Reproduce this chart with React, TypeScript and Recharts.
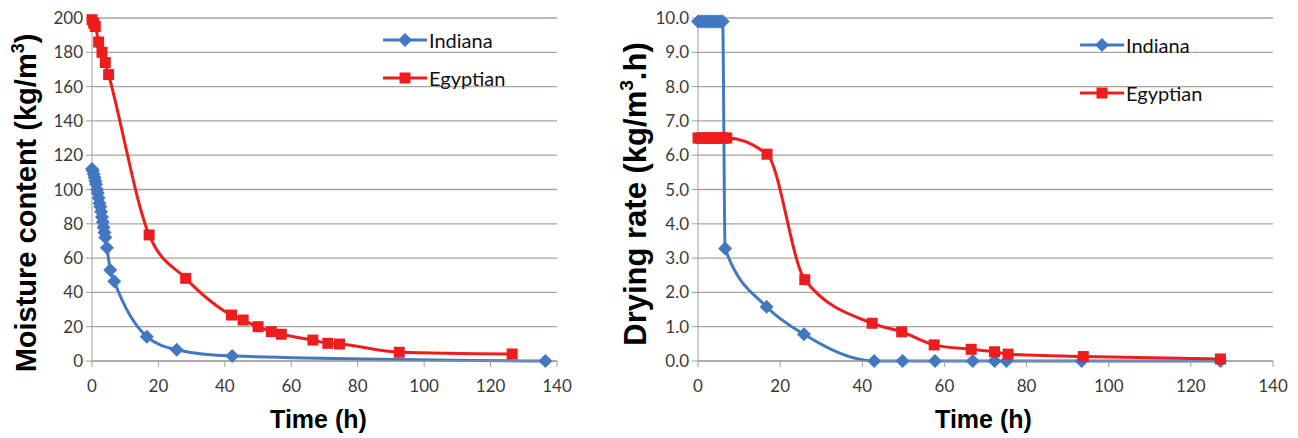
import { CartesianGrid, Line, LineChart, XAxis, YAxis } from "recharts";

const BLUE = "#4277c2";
const RED = "#ee1d1d";
const GRID = "#aaa39c";
const AXIS = "#9e9e9e";

const timeTicks = [0, 20, 40, 60, 80, 100, 120, 140];
const moistureTicks = [0, 20, 40, 60, 80, 100, 120, 140, 160, 180, 200];
const rateTicks = [0, 1, 2, 3, 4, 5, 6, 7, 8, 9, 10];

// moisture content (kg/m3)
const indianaMcTime = [0, 0.25, 0.5, 0.75, 1, 1.25, 1.5, 1.75, 2, 2.25, 2.5, 2.75, 3, 3.25, 3.5, 3.75, 4, 4.5, 5.5, 6.7, 16.5, 25.5, 42.2, 136.5];
const indianaMc = [112, 111, 109, 107, 105, 103, 100, 98, 95, 92, 90, 87, 84, 81, 78, 75, 72, 66, 53, 46.5, 14.2, 6.6, 2.9, 0];
const egyptianMcTime = [0, 0.5, 1, 2, 3, 4, 5, 17.2, 28.2, 42, 45.5, 50, 54, 57, 66.5, 71, 74.5, 92.5, 126.5];
const egyptianMc = [199, 197, 195, 186, 180, 174, 167, 73.5, 48.2, 26.8, 23.9, 20, 17.1, 15.6, 12.2, 10.3, 9.9, 5.1, 4.1];

// drying rate (kg/m3.h)
const indianaRateTime = [0, 0.5, 1, 1.5, 2, 2.5, 3, 3.5, 4, 4.5, 5, 5.5, 6, 6.6, 16.7, 25.8, 42.9, 49.8, 57.7, 66.9, 72.2, 75.1, 93.4, 127.2];
const indianaRate = [9.9, 9.9, 9.9, 9.9, 9.9, 9.9, 9.9, 9.9, 9.9, 9.9, 9.9, 9.9, 9.9, 3.28, 1.58, 0.78, 0, 0, 0, 0, 0, 0, 0, 0];
const egyptianRateTime = [0, 0.5, 1, 1.5, 2, 2.5, 3, 3.5, 4, 4.5, 5, 5.5, 6, 6.5, 7, 16.8, 26, 42.4, 49.6, 57.5, 66.5, 72.2, 75.5, 93.8, 127.2];
const egyptianRate = [6.5, 6.5, 6.5, 6.5, 6.5, 6.5, 6.5, 6.5, 6.5, 6.5, 6.5, 6.5, 6.5, 6.5, 6.5, 6.03, 2.37, 1.1, 0.85, 0.47, 0.34, 0.27, 0.2, 0.13, 0.06];

const zip = (t: number[], v: number[]) => t.map((x, i) => ({ t: x, v: v[i] }));

const tickFont = { fontSize: 17, fontFamily: "Lato", fill: "#3a3a3a" };
const titleFont = "Liberation Sans";

function Diamond(p: any) {
  const { cx, cy } = p;
  if (cx == null || cy == null) return null;
  const r = 7;
  return <path d={`M${cx},${cy - r}L${cx + r},${cy}L${cx},${cy + r}L${cx - r},${cy}Z`} fill={BLUE} />;
}

function Square(p: any) {
  const { cx, cy } = p;
  if (cx == null || cy == null) return null;
  return <rect x={cx - 5.5} y={cy - 5.5} width={11} height={11} fill={RED} />;
}

function SeriesLegend({ left, top, gap }: { left: number; top: number; gap: number }) {
  const items = [
    { name: "Indiana", color: BLUE, marker: "diamond" },
    { name: "Egyptian", color: RED, marker: "square" },
  ];
  return (
    <div style={{ position: "absolute", left, top }}>
      {items.map((it) => (
        <div key={it.name} style={{ display: "flex", alignItems: "center", height: gap }}>
          <svg width={44} height={16}>
            <line x1={0} y1={8} x2={44} y2={8} stroke={it.color} strokeWidth={3} />
            {it.marker === "diamond" ? <Diamond cx={22} cy={8} /> : <Square cx={22} cy={8} />}
          </svg>
          <span style={{ fontFamily: "Lato", fontSize: 20, color: "#111", marginLeft: 2 }}>{it.name}</span>
        </div>
      ))}
    </div>
  );
}

function XTitle({ viewBox, shift }: any) {
  const vb = viewBox || { x: 0, y: 0, width: 0 };
  return (
    <text x={vb.x + vb.width / 2 + shift} y={vb.y + 67} textAnchor="middle" fontFamily={titleFont} fontWeight="bold" fontSize={25} fill="#000">
      Time (h)
    </text>
  );
}

function YTitle({ x, y, main, tail, size }: { x: number; y: number; main: string; tail: string; size: number }) {
  return (
    <text transform={`translate(${x},${y}) rotate(-90)`} textAnchor="middle" fontFamily={titleFont} fontWeight="bold" fontSize={size} fill="#000">
      {main}
      <tspan fontSize={size * 0.62} dy={-size * 0.42}>3</tspan>
      <tspan dy={size * 0.42}>{tail}</tspan>
    </text>
  );
}

function MoistureChart() {
  return (
    <div style={{ position: "relative", width: 600, height: 438 }}>
      <LineChart width={600} height={438} margin={{ top: 18, right: 43, bottom: 0, left: 0 }}>
        <CartesianGrid stroke={GRID} strokeWidth={1.3} vertical={false} />
        <XAxis
          type="number"
          dataKey="t"
          domain={[0, 140]}
          ticks={timeTicks}
          interval={0}
          height={77}
          tick={tickFont}
          tickSize={6}
          tickMargin={13}
          stroke={AXIS}
          label={{ content: (p: any) => <XTitle {...p} shift={-6} /> }}
        />
        <YAxis
          type="number"
          domain={[0, 200]}
          ticks={moistureTicks}
          interval={0}
          width={92}
          tick={tickFont}
          tickSize={6}
          tickMargin={3}
          stroke={AXIS}
          label={{ content: () => <YTitle x={36} y={203} size={29} main="Moisture content (kg/m" tail=")" /> }}
        />
        <Line data={zip(indianaMcTime, indianaMc)} dataKey="v" type="monotone" stroke={BLUE} strokeWidth={3} dot={(p: any) => <Diamond key={`i${p.index}`} {...p} />} isAnimationActive={false} />
        <Line data={zip(egyptianMcTime, egyptianMc)} dataKey="v" type="monotone" stroke={RED} strokeWidth={3} dot={(p: any) => <Square key={`e${p.index}`} {...p} />} isAnimationActive={false} />
      </LineChart>
      <SeriesLegend left={383} top={21} gap={38} />
    </div>
  );
}

function RateChart() {
  return (
    <div style={{ position: "relative", width: 698, height: 438 }}>
      <LineChart width={698} height={438} margin={{ top: 18, right: 25, bottom: 0, left: 0 }}>
        <CartesianGrid stroke={GRID} strokeWidth={1.3} vertical={false} />
        <XAxis
          type="number"
          dataKey="t"
          domain={[0, 140]}
          ticks={timeTicks}
          interval={0}
          height={77}
          tick={tickFont}
          tickSize={6}
          tickMargin={13}
          stroke={AXIS}
          label={{ content: (p: any) => <XTitle {...p} shift={-2} /> }}
        />
        <YAxis
          type="number"
          domain={[0, 10]}
          ticks={rateTicks}
          interval={0}
          width={98}
          tick={tickFont}
          tickFormatter={(v: number) => v.toFixed(1)}
          tickSize={6}
          tickMargin={3}
          stroke={AXIS}
          label={{ content: () => <YTitle x={46} y={194} size={31} main="Drying rate (kg/m" tail=".h)" /> }}
        />
        <Line data={zip(indianaRateTime, indianaRate)} dataKey="v" type="monotone" stroke={BLUE} strokeWidth={3} dot={(p: any) => <Diamond key={`i${p.index}`} {...p} />} isAnimationActive={false} />
        <Line data={zip(egyptianRateTime, egyptianRate)} dataKey="v" type="monotone" stroke={RED} strokeWidth={3} dot={(p: any) => <Square key={`e${p.index}`} {...p} />} isAnimationActive={false} />
      </LineChart>
      <SeriesLegend left={480} top={21} gap={48} />
    </div>
  );
}

export default function App() {
  return (
    <div style={{ position: "absolute", left: 0, top: 0, width: 1298, height: 438, background: "#fff", display: "flex" }}>
      <MoistureChart />
      <RateChart />
    </div>
  );
}
